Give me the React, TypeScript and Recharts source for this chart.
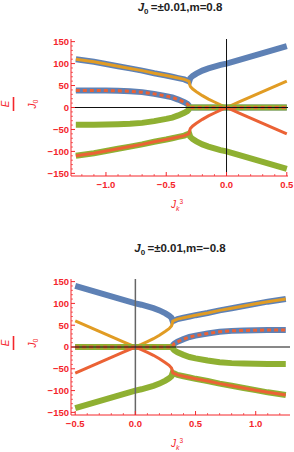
import React from "react"
import { LineChart, Line, XAxis, YAxis, ReferenceLine } from "recharts"

// top panel (m = 0.8)
const topX = [-1.25, -1.1, -1.0, -0.9, -0.8, -0.7, -0.6, -0.5, -0.45, -0.4, -0.35, -0.325, -0.315, -0.31, -0.305, -0.3, -0.28, -0.25, -0.2, -0.15, -0.1, -0.05, 0, 0.1, 0.2, 0.3, 0.4, 0.5]
const topBlueUp = [110, 104, 99, 94, 89, 84, 78, 73, 70, 67, 64, 61, 60, 59, 63, 67, 72, 77, 84, 89, 93, 97, 100, 108, 116, 124, 132, 140]
const topBlueMid = [39, 39, 38.5, 38, 37, 35, 31, 26, 23, 18, 12, 8, 5, 0, 0, 0, 0, 0, 0, 0, 0, 0, 0, 0, 0, 0, 0, 0]
const topOrange = [110, 104, 99, 94, 89, 84, 78, 73, 70, 67, 64, 61, 60, 59, 52, 48, 42, 36, 27, 19, 12.5, 6, 0, 12, 24, 36, 48, 60]
const topGreenMid = [-39, -39, -38.5, -38, -37, -35, -31, -26, -23, -18, -12, -8, -5, 0, 0, 0, 0, 0, 0, 0, 0, 0, 0, 0, 0, 0, 0, 0]
const topGreenLow = [-110, -104, -99, -94, -89, -84, -78, -73, -70, -67, -64, -61, -60, -59, -63, -67, -72, -77, -84, -89, -93, -97, -100, -108, -116, -124, -132, -140]
const topRed = [-110, -104, -99, -94, -89, -84, -78, -73, -70, -67, -64, -61, -60, -59, -52, -48, -42, -36, -27, -19, -12.5, -6, 0, -12, -24, -36, -48, -60]

// bottom panel (m = -0.8)
const botX = [-0.5, -0.4, -0.3, -0.2, -0.1, 0, 0.05, 0.1, 0.15, 0.2, 0.25, 0.28, 0.3, 0.305, 0.31, 0.315, 0.325, 0.35, 0.4, 0.45, 0.5, 0.6, 0.7, 0.8, 0.9, 1.0, 1.1, 1.25]
const botBlueUp = [140, 132, 124, 116, 108, 100, 97, 93, 89, 84, 77, 72, 67, 63, 59, 60, 61, 64, 67, 70, 73, 78, 84, 89, 94, 99, 104, 110]
const botBlueMid = [0, 0, 0, 0, 0, 0, 0, 0, 0, 0, 0, 0, 0, 0, 0, 5, 8, 12, 18, 23, 26, 31, 35, 37, 38, 38.5, 39, 39]
const botOrange = [60, 48, 36, 24, 12, 0, 6, 12.5, 19, 27, 36, 42, 48, 52, 59, 60, 61, 64, 67, 70, 73, 78, 84, 89, 94, 99, 104, 110]
const botGreenMid = [0, 0, 0, 0, 0, 0, 0, 0, 0, 0, 0, 0, 0, 0, 0, -5, -8, -12, -18, -23, -26, -31, -35, -37, -38, -38.5, -39, -39]
const botGreenLow = [-140, -132, -124, -116, -108, -100, -97, -93, -89, -84, -77, -72, -67, -63, -59, -60, -61, -64, -67, -70, -73, -78, -84, -89, -94, -99, -104, -110]
const botRed = [-60, -48, -36, -24, -12, 0, -6, -12.5, -19, -27, -36, -42, -48, -52, -59, -60, -61, -64, -67, -70, -73, -78, -84, -89, -94, -99, -104, -110]

const yMajor = [-150, -100, -50, 0, 50, 100, 150]
const yTicks = [-150, -140, -130, -120, -110, -100, -90, -80, -70, -60, -50, -40, -30, -20, -10, 0, 10, 20, 30, 40, 50, 60, 70, 80, 90, 100, 110, 120, 130, 140, 150]
const topXMajor = [-1.0, -0.5, 0, 0.5]
const topXTicks = [-1.2, -1.1, -1.0, -0.9, -0.8, -0.7, -0.6, -0.5, -0.4, -0.3, -0.2, -0.1, 0, 0.1, 0.2, 0.3, 0.4, 0.5]
const botXMajor = [-0.5, 0, 0.5, 1.0]
const botXTicks = [-0.5, -0.4, -0.3, -0.2, -0.1, 0, 0.1, 0.2, 0.3, 0.4, 0.5, 0.6, 0.7, 0.8, 0.9, 1.0, 1.1, 1.2]
const titles = ["=\u00b10.01,m=0.8", "=\u00b10.01,m=\u22120.8"]

const RED = "#f4262b"
const BLUE = "#5e81b5"
const ORANGE = "#e19c24"
const GREEN = "#8fb032"
const LRED = "#eb6235"
const FONT = "Liberation Sans, Arial, sans-serif"

const fmtX = (v: number) => (v < 0 ? "\u2212" : "") + Math.abs(v).toFixed(1)
const fmtY = (v: number) => (v < 0 ? "\u2212" : "") + Math.abs(v)

function makeTick(side: string, majors: number[], fmt?: (v: number) => string) {
  return (props: any) => {
    const { x, y, payload } = props
    const v = payload.value
    const major = majors.some((m) => Math.abs(m - v) < 1e-6)
    const len = major ? 4 : 2
    let x2 = x
    let y2 = y
    if (side === "bottom") y2 = y - len
    if (side === "top") y2 = y + len
    if (side === "left") x2 = x + len
    if (side === "right") x2 = x - len
    return (
      <g>
        <line x1={x} y1={y} x2={x2} y2={y2} stroke={RED} strokeWidth={major ? 1 : 0.7} />
        {fmt && major && side === "bottom" && (
          <text x={x} y={y + 11.5} textAnchor="middle" fill={RED} fontSize={9.5} fontWeight="bold" fontFamily={FONT}>
            {fmt(v)}
          </text>
        )}
        {fmt && major && side === "left" && (
          <text x={x - 2} y={y + 3.4} textAnchor="end" fill={RED} fontSize={9.5} fontWeight="bold" fontFamily={FONT}>
            {fmt(v)}
          </text>
        )}
      </g>
    )
  }
}

function buildRows(xs: number[], bu: number[], bm: number[], or: number[], gm: number[], gl: number[], rd: number[]) {
  return xs.map((x, i) => ({ x, bu: bu[i], bm: bm[i], or: or[i], gm: gm[i], gl: gl[i], rd: rd[i] }))
}

function Panel(props: any) {
  const { rows, domain, xTicks, xMajor, top, right, bottom, vColor, vWidth } = props
  const axisLine = { stroke: RED, strokeWidth: 1 }
  return (
    <LineChart width={294} height={226} data={rows} margin={{ top, right, bottom: 0, left: 0 }}>
      <XAxis dataKey="x" type="number" domain={domain} allowDataOverflow ticks={xTicks} interval={0}
        tickSize={0} tickMargin={0} tickLine={false} axisLine={axisLine} height={bottom}
        tick={makeTick("bottom", xMajor, fmtX)} />
      <XAxis xAxisId="t" orientation="top" dataKey="x" type="number" domain={domain} allowDataOverflow ticks={xTicks}
        interval={0} tickSize={0} tickMargin={0} tickLine={false} axisLine={axisLine} height={0}
        tick={makeTick("top", xMajor)} />
      <YAxis type="number" domain={[-156, 156]} allowDataOverflow ticks={yTicks} interval={0} width={71}
        tickSize={0} tickMargin={0} tickLine={false} axisLine={axisLine} tick={makeTick("left", yMajor, fmtY)} />
      <YAxis yAxisId="r" orientation="right" type="number" domain={[-156, 156]} allowDataOverflow ticks={yTicks}
        interval={0} width={0} tickSize={0} tickMargin={0} tickLine={false} axisLine={axisLine}
        tick={makeTick("right", yMajor)} />
      <Line dataKey="bu" stroke={BLUE} strokeWidth={6} dot={false} activeDot={false} isAnimationActive={false} />
      <Line dataKey="bm" stroke={BLUE} strokeWidth={6} dot={false} activeDot={false} isAnimationActive={false} />
      <Line dataKey="or" stroke={ORANGE} strokeWidth={3} dot={false} activeDot={false} isAnimationActive={false} />
      <Line dataKey="gm" stroke={GREEN} strokeWidth={6} dot={false} activeDot={false} isAnimationActive={false} />
      <Line dataKey="gl" stroke={GREEN} strokeWidth={6} dot={false} activeDot={false} isAnimationActive={false} />
      <Line dataKey="rd" stroke={LRED} strokeWidth={3} dot={false} activeDot={false} isAnimationActive={false} />
      <Line dataKey="bm" stroke={LRED} strokeWidth={3} strokeDasharray="4 3" dot={false} activeDot={false} isAnimationActive={false} />
      <ReferenceLine x={0} stroke={vColor} strokeWidth={vWidth} />
      <ReferenceLine y={0} stroke="#111" strokeWidth={1} />
    </LineChart>
  )
}

function Title(props: { y: number; text: string }) {
  return (
    <text x={180} y={props.y} textAnchor="middle" fontSize={11.5} fontWeight="bold" fontFamily={FONT} fill="#222">
      <tspan fontStyle="italic">J</tspan>
      <tspan fontSize={8} dy={3}>0</tspan>
      <tspan dy={-3}>{"\u2009" + props.text}</tspan>
    </text>
  )
}

function YLabel(props: { cx: number; cy: number }) {
  return (
    <g transform={`translate(${props.cx},${props.cy}) rotate(-90)`} fill={RED} fontFamily={FONT} fontSize={10}>
      <text x={0} y={-4.5} textAnchor="middle" fontStyle="italic">E</text>
      <line x1={-7} y1={0} x2={7} y2={0} stroke={RED} strokeWidth={1.6} />
      <text x={0} y={22} textAnchor="middle">
        <tspan fontStyle="italic">J</tspan>
        <tspan fontSize={7} dy={2}>0</tspan>
      </text>
    </g>
  )
}

function XLabel(props: { y: number }) {
  return (
    <text x={177} y={props.y} fill={RED} fontFamily={FONT} fontSize={10} textAnchor="middle">
      <tspan fontStyle="italic">J</tspan>
      <tspan fontSize={7} dy={3} fontStyle="italic">k</tspan>
      <tspan fontSize={6.5} dy={-7}>3</tspan>
    </text>
  )
}

export default function App() {
  const topRows = buildRows(topX, topBlueUp, topBlueMid, topOrange, topGreenMid, topGreenLow, topRed)
  const botRows = buildRows(botX, botBlueUp, botBlueMid, botOrange, botGreenMid, botGreenLow, botRed)
  return (
    <div style={{ position: "absolute", left: 0, top: 0, width: 294, height: 452, background: "#fff" }}>
      <div style={{ position: "absolute", left: 0, top: 0 }}>
        <Panel rows={topRows} domain={[-1.29, 0.51]} xTicks={topXTicks} xMajor={topXMajor}
          top={39} right={6} bottom={50} vColor="#111" vWidth={1} />
      </div>
      <div style={{ position: "absolute", left: 0, top: 226 }}>
        <Panel rows={botRows} domain={[-0.535, 1.285]} xTicks={botXTicks} xMajor={botXMajor}
          top={53} right={4} bottom={37} vColor="#666" vWidth={1.5} />
      </div>
      <svg width={294} height={452} style={{ position: "absolute", left: 0, top: 0, pointerEvents: "none" }}>
        <Title y={11} text={titles[0]} />
        <Title y={252} text={titles[1]} />
        <YLabel cx={13.5} cy={104} />
        <YLabel cx={13.5} cy={343} />
        <XLabel y={208} />
        <XLabel y={447} />
      </svg>
    </div>
  )
}
